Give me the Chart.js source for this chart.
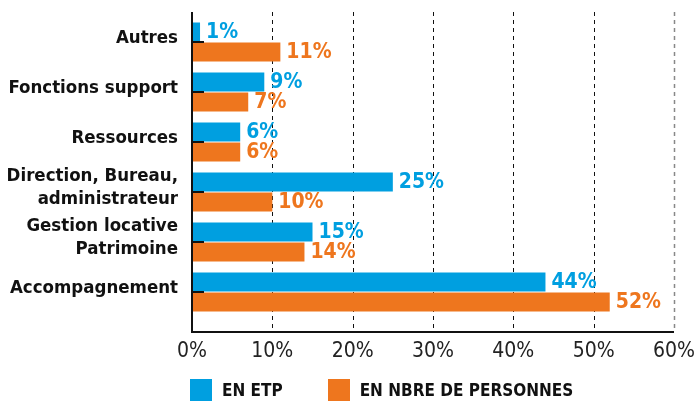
<!DOCTYPE html>
<html>
<head>
<meta charset="utf-8">
<script src="https://cdn.jsdelivr.net/npm/chart.js@4.4.1/dist/chart.umd.min.js"></script>
<style>
  html, body { margin: 0; padding: 0; background: #fff; }
  #wrap { position: relative; width: 699px; height: 402px; }
  #legend {
    position: absolute; left: 190px; top: 379px;
    display: flex; align-items: center;
    font: bold 17px 'DejaVu Sans Condensed', sans-serif;
    color: #111;
  }
  .item { display: flex; align-items: center; margin-right: 45px; }
  .box { width: 22px; height: 22px; margin-right: 10px; }
</style>
</head>
<body>
<div id="wrap">
  <canvas id="chart" width="699" height="402"></canvas>
  <div id="legend"></div>
</div>
<script>
// categories, top to bottom
const categories = [
  'Autres',
  'Fonctions support',
  'Ressources',
  ['Direction, Bureau,', 'administrateur'],
  ['Gestion locative', 'Patrimoine'],
  'Accompagnement'
];
const seriesNames = ['EN ETP', 'EN NBRE DE PERSONNES'];
const enEtp = [1, 9, 6, 25, 15, 44];
const enPersonnes = [11, 7, 6, 10, 14, 52];
const xTicks = [0, 10, 20, 30, 40, 50, 60];

const BLUE = '#009fe0';
const ORANGE = '#ee761e';
const COND = "'DejaVu Sans Condensed', sans-serif";

// dashed grid + axes, drawn by hand so they can run past the bands
const gridLines = {
  id: 'gridLines',
  beforeDatasetsDraw(chart) {
    const { ctx, chartArea: a, scales: { x } } = chart;
    ctx.save();
    ctx.setLineDash([4, 4]);
    xTicks.slice(1).forEach((v, i, arr) => {
      const px = Math.round(x.getPixelForValue(v)) + 0.5;
      const last = i === arr.length - 1;
      ctx.strokeStyle = last ? '#888' : '#111';
      ctx.lineWidth = last ? 1.5 : 1;
      ctx.beginPath();
      ctx.moveTo(px, a.top - 5);
      ctx.lineTo(px, a.bottom + 15);
      ctx.stroke();
    });
    ctx.restore();
  },
  afterDatasetsDraw(chart) {
    const { ctx, chartArea: a, scales: { x, y } } = chart;
    ctx.save();
    ctx.strokeStyle = '#111';
    ctx.lineWidth = 2;
    ctx.beginPath();
    ctx.moveTo(a.left, a.top - 5);
    ctx.lineTo(a.left, a.bottom + 15);
    ctx.lineTo(x.getPixelForValue(60), a.bottom + 15);
    ctx.stroke();
    // small marks between each pair of bars
    categories.forEach((c, j) => {
      const py = y.getPixelForValue(j);
      ctx.beginPath();
      ctx.moveTo(a.left, py);
      ctx.lineTo(a.left + 12, py);
      ctx.stroke();
    });
    // value labels
    ctx.font = 'bold 21px ' + COND;
    ctx.textBaseline = 'middle';
    ctx.textAlign = 'left';
    chart.data.datasets.forEach((ds, i) => {
      ctx.fillStyle = ds.backgroundColor;
      chart.getDatasetMeta(i).data.forEach((bar, j) => {
        ctx.fillText(ds.data[j] + '%', bar.x + 6, bar.y + 1);
      });
    });
    ctx.restore();
  }
};

new Chart(document.getElementById('chart'), {
  type: 'bar',
  data: {
    labels: categories,
    datasets: [
      { label: seriesNames[0], data: enEtp, backgroundColor: BLUE },
      { label: seriesNames[1], data: enPersonnes, backgroundColor: ORANGE }
    ]
  },
  options: {
    indexAxis: 'y',
    responsive: false,
    animation: false,
    layout: { padding: { top: 17, right: 25, left: 0, bottom: 0 } },
    datasets: { bar: { categoryPercentage: 0.8, barPercentage: 0.95 } },
    plugins: { legend: { display: false }, tooltip: { enabled: false } },
    scales: {
      x: {
        min: 0, max: 60,
        afterFit: s => { s.height = 85; s.paddingLeft = 0; s.paddingRight = 0; },
        grid: { display: false },
        border: { display: false },
        ticks: {
          stepSize: 10,
          padding: 14,
          color: '#222',
          font: { family: COND, size: 21 },
          callback: v => v + '%'
        }
      },
      y: {
        afterFit: s => { s.width = 192; s.paddingTop = 0; s.paddingBottom = 0; },
        grid: { display: false },
        border: { display: false },
        ticks: {
          autoSkip: false,
          padding: 6,
          labelOffset: -4,
          color: '#111',
          font: { family: COND, size: 18.5, weight: 'bold', lineHeight: 1.25 }
        }
      }
    }
  },
  plugins: [gridLines]
});

// legend below the plot
const legend = document.getElementById('legend');
[BLUE, ORANGE].forEach((col, i) => {
  const it = document.createElement('div');
  it.className = 'item';
  it.innerHTML = '<span class="box" style="background:' + col + '"></span><span>' + seriesNames[i] + '</span>';
  legend.appendChild(it);
});
</script>
</body>
</html>
